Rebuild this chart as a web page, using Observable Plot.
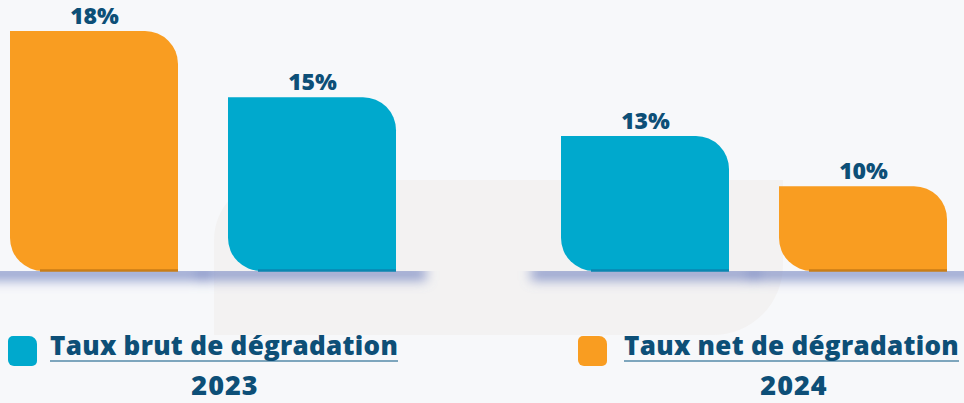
<!DOCTYPE html>
<html>
<head>
<meta charset="utf-8">
<script src="https://cdn.jsdelivr.net/npm/d3@7"></script>
<script src="https://cdn.jsdelivr.net/npm/@observablehq/plot@0.6"></script>
<style>
  html, body { margin: 0; padding: 0; background: #f7f8fa; }
  body { width: 964px; height: 403px; position: relative; overflow: hidden; font-family: "Open Sans", Lato, sans-serif; }
  #wm { position: absolute; left: 214px; top: 180px; width: 569px; height: 155px; background: #f3f2f2;
        border-radius: 60px 0 70px 0 / 60px 0 70px 0; z-index: 0; }
  #chart { position: absolute; left: 0; top: 0; z-index: 1; }
  #chart svg { display: block; overflow: visible; }
  .leg { position: absolute; z-index: 2; color: #0d4f77; font-weight: 800; }
  .sw { position: absolute; width: 29px; height: 30px; border-radius: 5px 8px 5px 6px; }
  .lt { position: absolute; font-size: 26px; line-height: 26px; letter-spacing: 0.3px; white-space: nowrap; border-bottom: 2px solid #7ea6bd; padding-bottom: 2px; }
  .yr { position: absolute; font-size: 27px; line-height: 27px; letter-spacing: 1px; text-align: center; }
</style>
</head>
<body>
<div id="wm"></div>
<div id="chart"></div>
<div id="legend"></div>
<script>
// ---- data ----
const years = [2023, 2023, 2024, 2024];
const series = ["Taux net de dégradation", "Taux brut de dégradation", "Taux brut de dégradation", "Taux net de dégradation"];
const values = [18, 15, 13, 10];
const legendLabels = ["Taux brut de dégradation", "Taux net de dégradation"];
const legendYears = ["2023", "2024"];
const colors = {"Taux brut de dégradation": "#00a9cd", "Taux net de dégradation": "#f99d21"};
const darkColors = {"Taux brut de dégradation": "#0a86b0", "Taux net de dégradation": "#c97d17"};

const data = values.map((v, i) => ({year: years[i], series: series[i], value: v, slot: i % 2}));

const plot = Plot.plot({
  width: 964,
  height: 300,
  marginTop: 31,
  marginBottom: 29,
  marginLeft: 9,
  marginRight: 17,
  style: {background: "transparent", fontFamily: "'Open Sans', Lato, sans-serif"},
  fx: {axis: null, domain: [2023, 2024], paddingInner: 0.30, paddingOuter: 0},
  x: {axis: null, domain: [0, 1], paddingInner: 0.23, paddingOuter: 0},
  y: {axis: null, type: "pow", exponent: 1.77, domain: [0, 18]},
  marks: [
    Plot.tickY(data, {fx: "year", x: "slot", y: () => 0, dy: 2, stroke: "#7484c0", strokeWidth: 14, strokeOpacity: 0.75,
      insetLeft: -30, insetRight: -30}),
    Plot.barY(data, {fx: "year", x: "slot", y: "value", fill: d => colors[d.series]}),
    Plot.tickY(data, {fx: "year", x: "slot", y: () => 0, dy: -1, stroke: d => darkColors[d.series], strokeWidth: 2.5,
      insetLeft: 30}),
    Plot.text(data, {fx: "year", x: "slot", y: "value", text: d => d.value + "%", dy: -15,
      fontSize: 23, fontWeight: 800, fill: "#0d4f77", letterSpacing: 0.5})
  ]
});

const svg = d3.select(plot);
const baseY = plot.scale("y").apply(0);
// blur filter + clip (shadow only below the baseline)
const defs = svg.insert("defs", ":first-child");
defs.append("filter").attr("id", "shblur").attr("filterUnits", "userSpaceOnUse")
  .attr("x", -100).attr("y", -100).attr("width", 1200).attr("height", 600)
  .append("feGaussianBlur").attr("stdDeviation", 6);
defs.append("clipPath").attr("id", "shclip").attr("clipPathUnits", "userSpaceOnUse")
  .append("rect").attr("x", -50).attr("y", baseY).attr("width", 1100).attr("height", 100);
const tickGroups = svg.selectAll('g[aria-label="tick"]').nodes();
if (tickGroups[0]) {
  const wrap = document.createElementNS("http://www.w3.org/2000/svg", "g");
  wrap.setAttribute("clip-path", "url(#shclip)");
  tickGroups[0].parentNode.insertBefore(wrap, tickGroups[0]);
  wrap.appendChild(tickGroups[0]);
  tickGroups[0].setAttribute("filter", "url(#shblur)");
}

// round top-right and bottom-left corners of each bar
svg.selectAll('g[aria-label="bar"] rect').each(function() {
  const r = d3.select(this);
  const x = +r.attr("x"), y = +r.attr("y"), w = +r.attr("width"), h = +r.attr("height");
  const rad = Math.min(33, h / 2, w / 2);
  const p = `M${x},${y}H${x + w - rad}A${rad},${rad} 0 0 1 ${x + w},${y + rad}V${y + h}H${x + rad}A${rad},${rad} 0 0 1 ${x},${y + h - rad}Z`;
  const path = document.createElementNS("http://www.w3.org/2000/svg", "path");
  path.setAttribute("d", p);
  path.setAttribute("fill", r.attr("fill"));
  const t = r.attr("transform"); if (t) path.setAttribute("transform", t);
  this.parentNode.replaceChild(path, this);
});

document.getElementById("chart").appendChild(plot);

// legend below the chart
const leg = document.getElementById("legend");
const legPos = [{sx: 8, tx: 50, yc: 225}, {sx: 578, tx: 624, yc: 794}];
legendLabels.forEach((lab, i) => {
  const p = legPos[i];
  const sw = document.createElement("div");
  sw.className = "leg sw"; sw.style.left = p.sx + "px"; sw.style.top = "336px"; sw.style.background = colors[lab];
  leg.appendChild(sw);
  const t = document.createElement("div");
  t.className = "leg lt"; t.style.left = p.tx + "px"; t.style.top = "332px"; t.textContent = lab;
  leg.appendChild(t);
  const y = document.createElement("div");
  y.className = "leg yr"; y.style.left = (p.yc - 60) + "px"; y.style.width = "120px"; y.style.top = "371px"; y.textContent = legendYears[i];
  leg.appendChild(y);
});
</script>
</body>
</html>
